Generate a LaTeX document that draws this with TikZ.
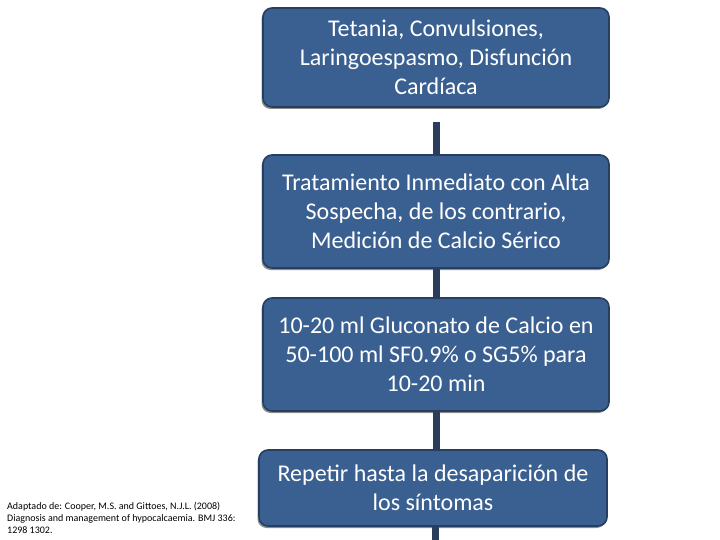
\documentclass[tikz,border=0pt]{standalone}
\usepackage{fontspec}
\setmainfont{Carlito}
\usetikzlibrary{shadows}
\definecolor{boxfill}{RGB}{58,96,145}
\definecolor{boxdraw}{RGB}{38,62,98}
\definecolor{linkcol}{RGB}{42,62,92}
\tikzset{
  stepbox/.style={draw=boxdraw, line width=1.6pt, fill=boxfill, rounded corners=9pt,
    minimum width=346pt, text=white, align=center, inner sep=0pt,
    font=\fontsize{24}{29}\selectfont,
    drop shadow={shadow xshift=-1.5pt, shadow yshift=-2pt, opacity=0.45, fill=black}},
  link/.style={draw=linkcol, line width=7pt},
  cite/.style={align=left, anchor=north west, inner sep=0pt, font=\fontsize{10}{12}\selectfont, text=black}
}
\begin{document}
\begin{tikzpicture}[x=1pt,y=-1pt]
\useasboundingbox (0,0) rectangle (720,540);
\node[stepbox, minimum height=99pt] (b1) at (436,57.5) {Tetania, Convulsiones,\\Laringoespasmo, Disfunción\\Cardíaca};
\node[stepbox, minimum height=113pt] (b2) at (436,211.5) {Tratamiento Inmediato con Alta\\Sospecha, de los contrario,\\Medición de Calcio Sérico};
\node[stepbox, minimum height=113pt] (b3) at (436,354.5) {10-20 ml Gluconato de Calcio en\\50-100 ml SF0.9\% o SG5\% para\\10-20 min};
\node[stepbox, minimum height=76pt, minimum width=348pt] (b4) at (433,488) {Repetir hasta la desaparición de\\los síntomas};
\coordinate (end) at (435.5,540);
\draw[link] ([yshift=-14pt]b1.south) -- (b2.north);
\draw[link] (b2.south) -- (b3.north);
\draw[link] (b3.south) -- (b3.south |- b4.north);
\draw[link] (end |- b4.south) -- (end);
\node[cite] (ref) at (7,502) {Adaptado de: Cooper, M.S. and Gittoes, N.J.L. (2008)\\Diagnosis and management of hypocalcaemia. BMJ 336:\\1298 1302.};
\end{tikzpicture}
\end{document}
